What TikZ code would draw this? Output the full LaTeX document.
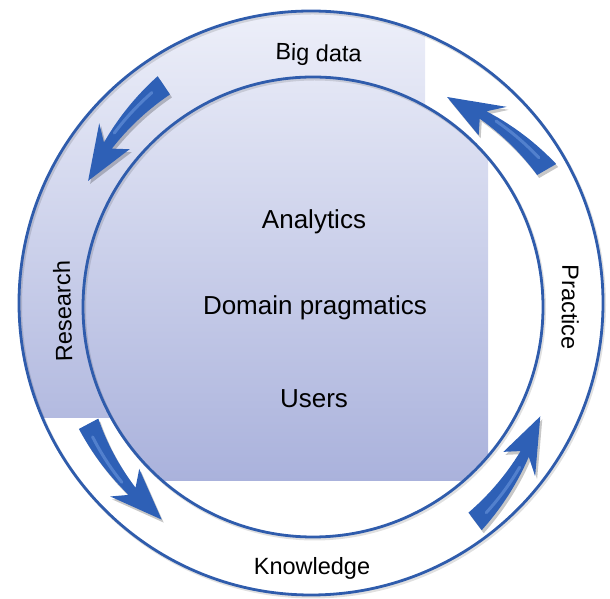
\documentclass[tikz,border=0pt]{standalone}
\usepackage{fontspec}
\setmainfont{Liberation Sans}
\definecolor{ringblue}{RGB}{47,92,172}
\definecolor{arrowblue}{RGB}{46,96,182}
\definecolor{arrowlight}{RGB}{98,142,215}
\definecolor{shadetop}{RGB}{237,239,249}
\definecolor{shadebot}{RGB}{170,178,220}
\newcommand{\swooshpath}{%
 plot[domain=0:18, samples=14, variable=\t] ({\a+\t}:{\rt+(\rp-\rt)*\t/27+11-6*\t/18})
 -- ({\a+15.5}:{\rt+(\rp-\rt)*15.5/27+20})
 -- ({\a+27}:{\rp})
 -- ({\a+15.5}:{\rt+(\rp-\rt)*15.5/27-20})
 -- ({\a+18}:{\rt+(\rp-\rt)*18/27-5})
 -- plot[domain=18:0, samples=14, variable=\t] ({\a+\t}:{\rt+(\rp-\rt)*\t/27-11+6*\t/18})
 -- cycle}
\tikzset{
  ringline/.style={draw=ringblue, line width=2.8pt},
  ringshadow/.style={draw=black, line width=3pt, opacity=.12},
  labelbig/.style={font=\fontsize{26}{30}\selectfont, text=black, inner sep=0pt},
  labelring/.style={font=\fontsize{23.5}{27}\selectfont, text=black, inner sep=0pt, anchor=base},
  swoosh/.style={fill=arrowblue},
  swooshshadow/.style={fill=black, opacity=.22},
  swooshlight/.style={draw=arrowlight, line width=3pt, opacity=.7, line cap=round},
}
\begin{document}
\begin{tikzpicture}[x=1pt,y=1pt]
\useasboundingbox (0,0) rectangle (610,599);
\coordinate (oc) at (311,296);
\coordinate (ic) at (313,292);
\coordinate (ac) at (312,294);
% background shading
\begin{scope}
 \clip (oc) circle (292);
 \clip (0,181) rectangle (425,599);
 \shade[top color=shadetop, bottom color=shadebot] (0,118) rectangle (488,587);
\end{scope}
\begin{scope}
 \clip (ic) circle (230);
 \shade[top color=shadetop, bottom color=shadebot] (0,118) rectangle (488,587);
\end{scope}
% rings
\draw[ringshadow] ([shift={(1.5,-2)}]oc) circle (292);
\draw[ringshadow] ([shift={(1.5,-2)}]ic) circle (230);
\draw[ringline] (oc) circle (292);
\draw[ringline] (ic) circle (230);
% arrows
\begin{scope}[shift={(ac)}]
\foreach \a/\rt/\rp in {124/265/256, 30/271/248, 208/253/262, 307/271/254}{
  \fill[swooshshadow, shift={(2,-3)}] \swooshpath;
  \fill[swoosh] \swooshpath;
  \draw[swooshlight] plot[domain=3:15, samples=10, variable=\t] ({\a+\t}:{\rt+(\rp-\rt)*\t/27+2});
}
\end{scope}
% ring labels
\node[labelring, rotate=-1.5] (bd) at ([shift={(88.5:244)}]ac) {Big data};
\node[labelring] (kn) at ([shift={(270:270)}]ac) {Knowledge};
\node[labelring, rotate=91.4] (re) at ([shift={(181.4:241)}]ac) {Research};
\node[labelring, rotate=-90.5] (pr) at ([shift={(-0.5:250)}]ac) {Practice};
% inner labels
\node[labelbig, anchor=base] (an) at (314,370) {Analytics};
\node[labelbig, anchor=base] (dp) at (315,284) {Domain pragmatics};
\node[labelbig, anchor=base] (us) at (314,191) {Users};
\end{tikzpicture}
\end{document}
